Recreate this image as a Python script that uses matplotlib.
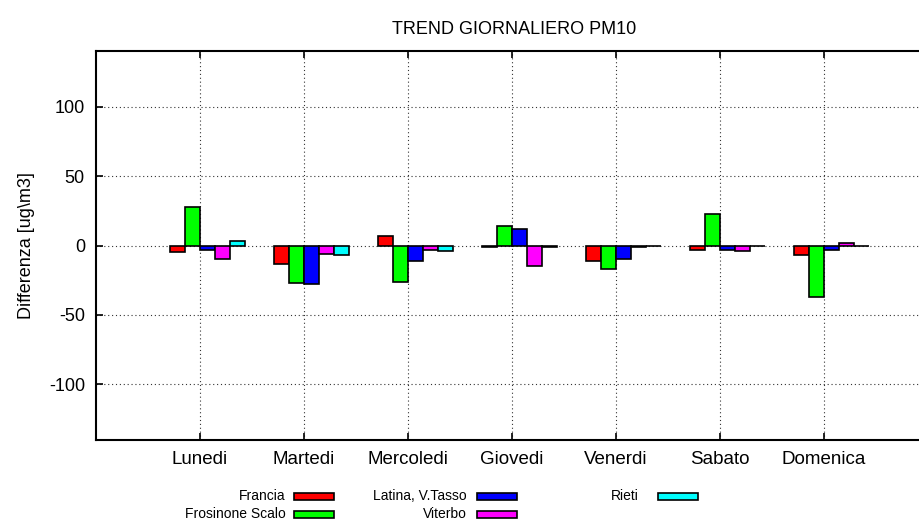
import matplotlib
matplotlib.use('Agg')
import matplotlib.pyplot as plt
import numpy as np
from matplotlib.patches import Rectangle

plt.rcParams['font.family'] = ['Liberation Sans', 'DejaVu Sans']
plt.rcParams['font.size'] = 13
plt.rcParams['axes.unicode_minus'] = False

# dati
giorni = ['Lunedi', 'Martedi', 'Mercoledi', 'Giovedi', 'Venerdi', 'Sabato', 'Domenica']
stazioni = ['Francia', 'Frosinone Scalo', 'Latina, V.Tasso', 'Viterbo', 'Rieti']
francia = [-5, -13, 7, -1, -11, -3, -7]
frosinone = [28, -27, -26, 14, -17, 23, -37]
latina = [-3, -28, -11, 12, -10, -3, -3]
viterbo = [-10, -6, -3, -15, -1, -4, 2]
rieti = [3, -7, -4, -1, -0.5, -0.5, -0.3]
serie = [francia, frosinone, latina, viterbo, rieti]
colori = ['#ff0000', '#00ff00', '#0000ff', '#ff00ff', '#00ffff']

fig = plt.figure(figsize=(9.19, 5.25), dpi=100)
ax = fig.add_axes([96/919, 1-440/525, (928-96)/919, (440-51)/525])

x = np.arange(len(giorni))
w = 0.144
offsets = [-1.5, -0.5, 0.5, 1.5, 2.5]
for s, c, o in zip(serie, colori, offsets):
    ax.bar(x + o*w, s, width=w, color=c, edgecolor='black', linewidth=1.2, zorder=3)

ax.set_xlim(-1, len(giorni))
ax.set_ylim(-140, 140)
ax.set_xticks(x)
ax.set_xticklabels(giorni, fontsize=13.5)
ax.set_yticks([-100, -50, 0, 50, 100])
ax.tick_params(direction='in', length=5, width=1.2, top=True, right=True, pad=8)
ax.grid(True, linestyle=(0, (1, 2.5)), color='#333333', linewidth=0.8, zorder=0)
for sp in ax.spines.values():
    sp.set_linewidth(1.5)
ax.set_ylabel('Differenza [ug\\m3]', labelpad=10)

fig.text(514/919, 1-30/525, 'TREND GIORNALIERO PM10', ha='center', va='center')

# legenda a mano, stile gnuplot
txt_x = [286, 286, 467, 467, 639]
sw_x = [294, 294, 477, 477, 658]
row_y = [496, 514, 496, 514, 496]
for nome, c, tx, sx, ry in zip(stazioni, colori, txt_x, sw_x, row_y):
    fig.text(tx/919, 1-ry/525, nome, ha='right', va='center', fontsize=10)
    fig.add_artist(Rectangle((sx/919, 1-(ry+3.5)/525), 40/919, 7/525,
                             transform=fig.transFigure, facecolor=c,
                             edgecolor='black', linewidth=1.2))

plt.savefig('out.png', dpi=100)
